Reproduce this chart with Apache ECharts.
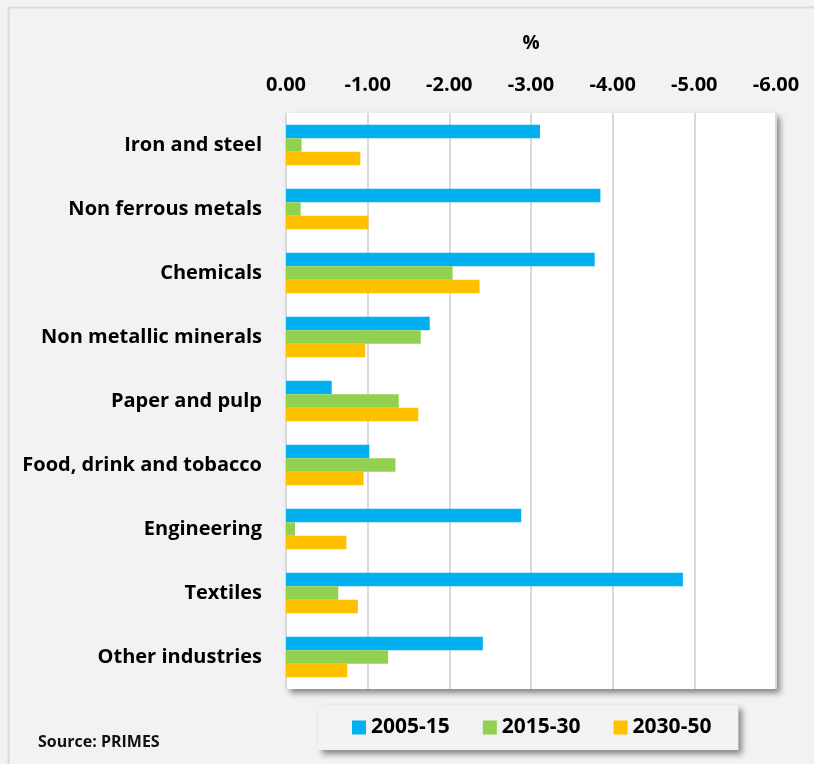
<!DOCTYPE html>
<html>
<head>
<meta charset="utf-8">
<script src="https://cdn.jsdelivr.net/npm/echarts@6/dist/echarts.min.js"></script>
<style>
  html, body { margin: 0; padding: 0; background: #f2f2f2; }
  #chart { width: 814px; height: 764px; }
</style>
</head>
<body>
<div id="chart"></div>
<script>
// sectors, top to bottom
const sectors = [
  'Iron and steel', 'Non ferrous metals', 'Chemicals', 'Non metallic minerals',
  'Paper and pulp', 'Food, drink and tobacco', 'Engineering', 'Textiles', 'Other industries'
];
const periods = ['2005-15', '2015-30', '2030-50'];
// annual change, %
const v2005_15 = [-3.11, -3.85, -3.78, -1.76, -0.56, -1.02, -2.88, -4.86, -2.41];
const v2015_30 = [-0.19, -0.18, -2.04, -1.65, -1.38, -1.34, -0.11, -0.64, -1.25];
const v2030_50 = [-0.91, -1.01, -2.37, -0.97, -1.62, -0.95, -0.74, -0.88, -0.75];
const colors = ['#00b0f0', '#92d050', '#ffc000'];

const font = '"Open Sans", Lato, sans-serif';
const chart = echarts.init(document.getElementById('chart'));

chart.setOption({
  backgroundColor: '#f2f2f2',
  textStyle: { fontFamily: font },
  color: colors,
  graphic: [
    { type: 'rect', left: 6, top: 5, shape: { width: 830, height: 800 },
      style: { fill: 'none', stroke: '#d9d9d9', lineWidth: 2 }, silent: true },
    { type: 'text', left: 38, top: 734,
      style: { text: 'Source: PRIMES', font: 'bold 16px ' + font, fill: '#111' } }
  ],
  grid: {
    left: 286, right: 38, top: 113, bottom: 75,
    show: true, backgroundColor: '#fff', borderWidth: 0,
    shadowColor: 'rgba(0,0,0,0.45)', shadowBlur: 6, shadowOffsetX: 4, shadowOffsetY: 4
  },
  legend: {
    data: periods,
    left: 318, top: 705,
    padding: [12, 27, 12, 34],
    itemGap: 33, itemWidth: 14, itemHeight: 14,
    icon: 'rect',
    backgroundColor: '#f2f2f2',
    shadowColor: 'rgba(0,0,0,0.45)', shadowBlur: 6, shadowOffsetX: 4, shadowOffsetY: 4,
    textStyle: { fontSize: 21, fontWeight: 'bold', color: '#000', fontFamily: font }
  },
  xAxis: {
    type: 'value', position: 'top', inverse: true,
    min: -6, max: 0, interval: 1,
    name: '%', nameLocation: 'middle', nameGap: 60,
    nameTextStyle: { fontSize: 19, fontWeight: 'bold', color: '#000' },
    axisLine: { show: false }, axisTick: { show: false },
    axisLabel: {
      margin: 18, fontSize: 20, fontWeight: 'bold', color: '#000',
      formatter: v => v.toFixed(2)
    },
    splitLine: { lineStyle: { color: '#d9d9d9', width: 2 } }
  },
  yAxis: {
    type: 'category', inverse: true, data: sectors,
    axisLine: { show: false }, axisTick: { show: false },
    axisLabel: { margin: 24, fontSize: 20, fontWeight: 'bold', color: '#000' }
  },
  series: [
    { name: periods[0], type: 'bar', data: v2005_15, barGap: 0, barCategoryGap: '37%' },
    { name: periods[1], type: 'bar', data: v2015_30, barGap: 0, barCategoryGap: '37%' },
    { name: periods[2], type: 'bar', data: v2030_50, barGap: 0, barCategoryGap: '37%' }
  ]
});
</script>
</body>
</html>
